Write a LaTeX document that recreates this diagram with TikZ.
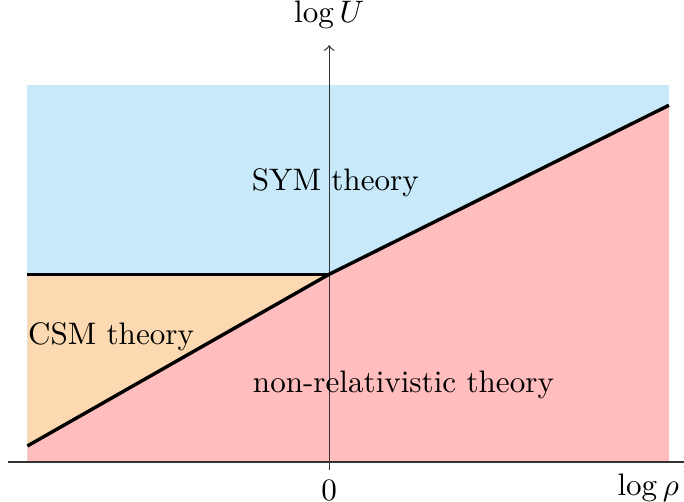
\documentclass[tikz,border=0pt]{standalone}
\usepackage{amsmath, amssymb}
\usepackage{tikz}
\usetikzlibrary{calc,positioning}
\definecolor{symblue}{RGB}{199,233,249}
\definecolor{nrred}{RGB}{255,189,190}
\definecolor{csmorange}{RGB}{253,217,177}
\tikzstyle{region} = [draw=none]
\tikzstyle{border} = [line width=1.1pt, black]
\tikzstyle{axis} = [thin, black!80, ->, >=to]
\tikzstyle{label} = [inner sep=0pt]

\begin{document}
\begin{tikzpicture}
\useasboundingbox (-3.72,-0.45) rectangle (4.01,5.22);
\coordinate (bl) at (-3.41,0);
\coordinate (tl) at (-3.41,4.26);
\coordinate (tr) at (3.84,4.26);
\coordinate (br) at (3.84,0);
\coordinate (kink) at (0,2.12);
\coordinate (left) at (-3.41,2.12);
\coordinate (low) at (-3.41,0.18);
\coordinate (high) at (3.84,4.03);
% regions
\fill [region, symblue] (bl) rectangle (tr);
\fill [region, csmorange] (low) -- (left) -- (kink) -- cycle;
\fill [region, nrred] (bl) -- (low) -- (kink) -- (high) -- (br) -- cycle;
% axes
\draw [axis] (-3.63,0) -- (4.07,0) coordinate (xend);
\draw [axis] (0,-0.09) -- (0,4.71) coordinate (yend);
\node (ylab) [above=0.18cm of yend, label] {$\log U$};
\node (zero) [below=0.2cm, label] at (0,0) {$0$};
\node (xlab) [below left=0.13cm and 0.11cm of xend, label] {$\log\rho$};
% boundaries
\draw [border] (left) -- (kink);
\draw [border] (low) -- (kink) -- (high);
% theories
\node (sym) [label] at (0.07,3.15) {SYM theory};
\node (csm) [label, anchor=west] at (-3.41,1.41) {CSM theory};
\node (nonrel) [label] at (0.84,0.87) {non-relativistic theory};
\end{tikzpicture}
\end{document}
